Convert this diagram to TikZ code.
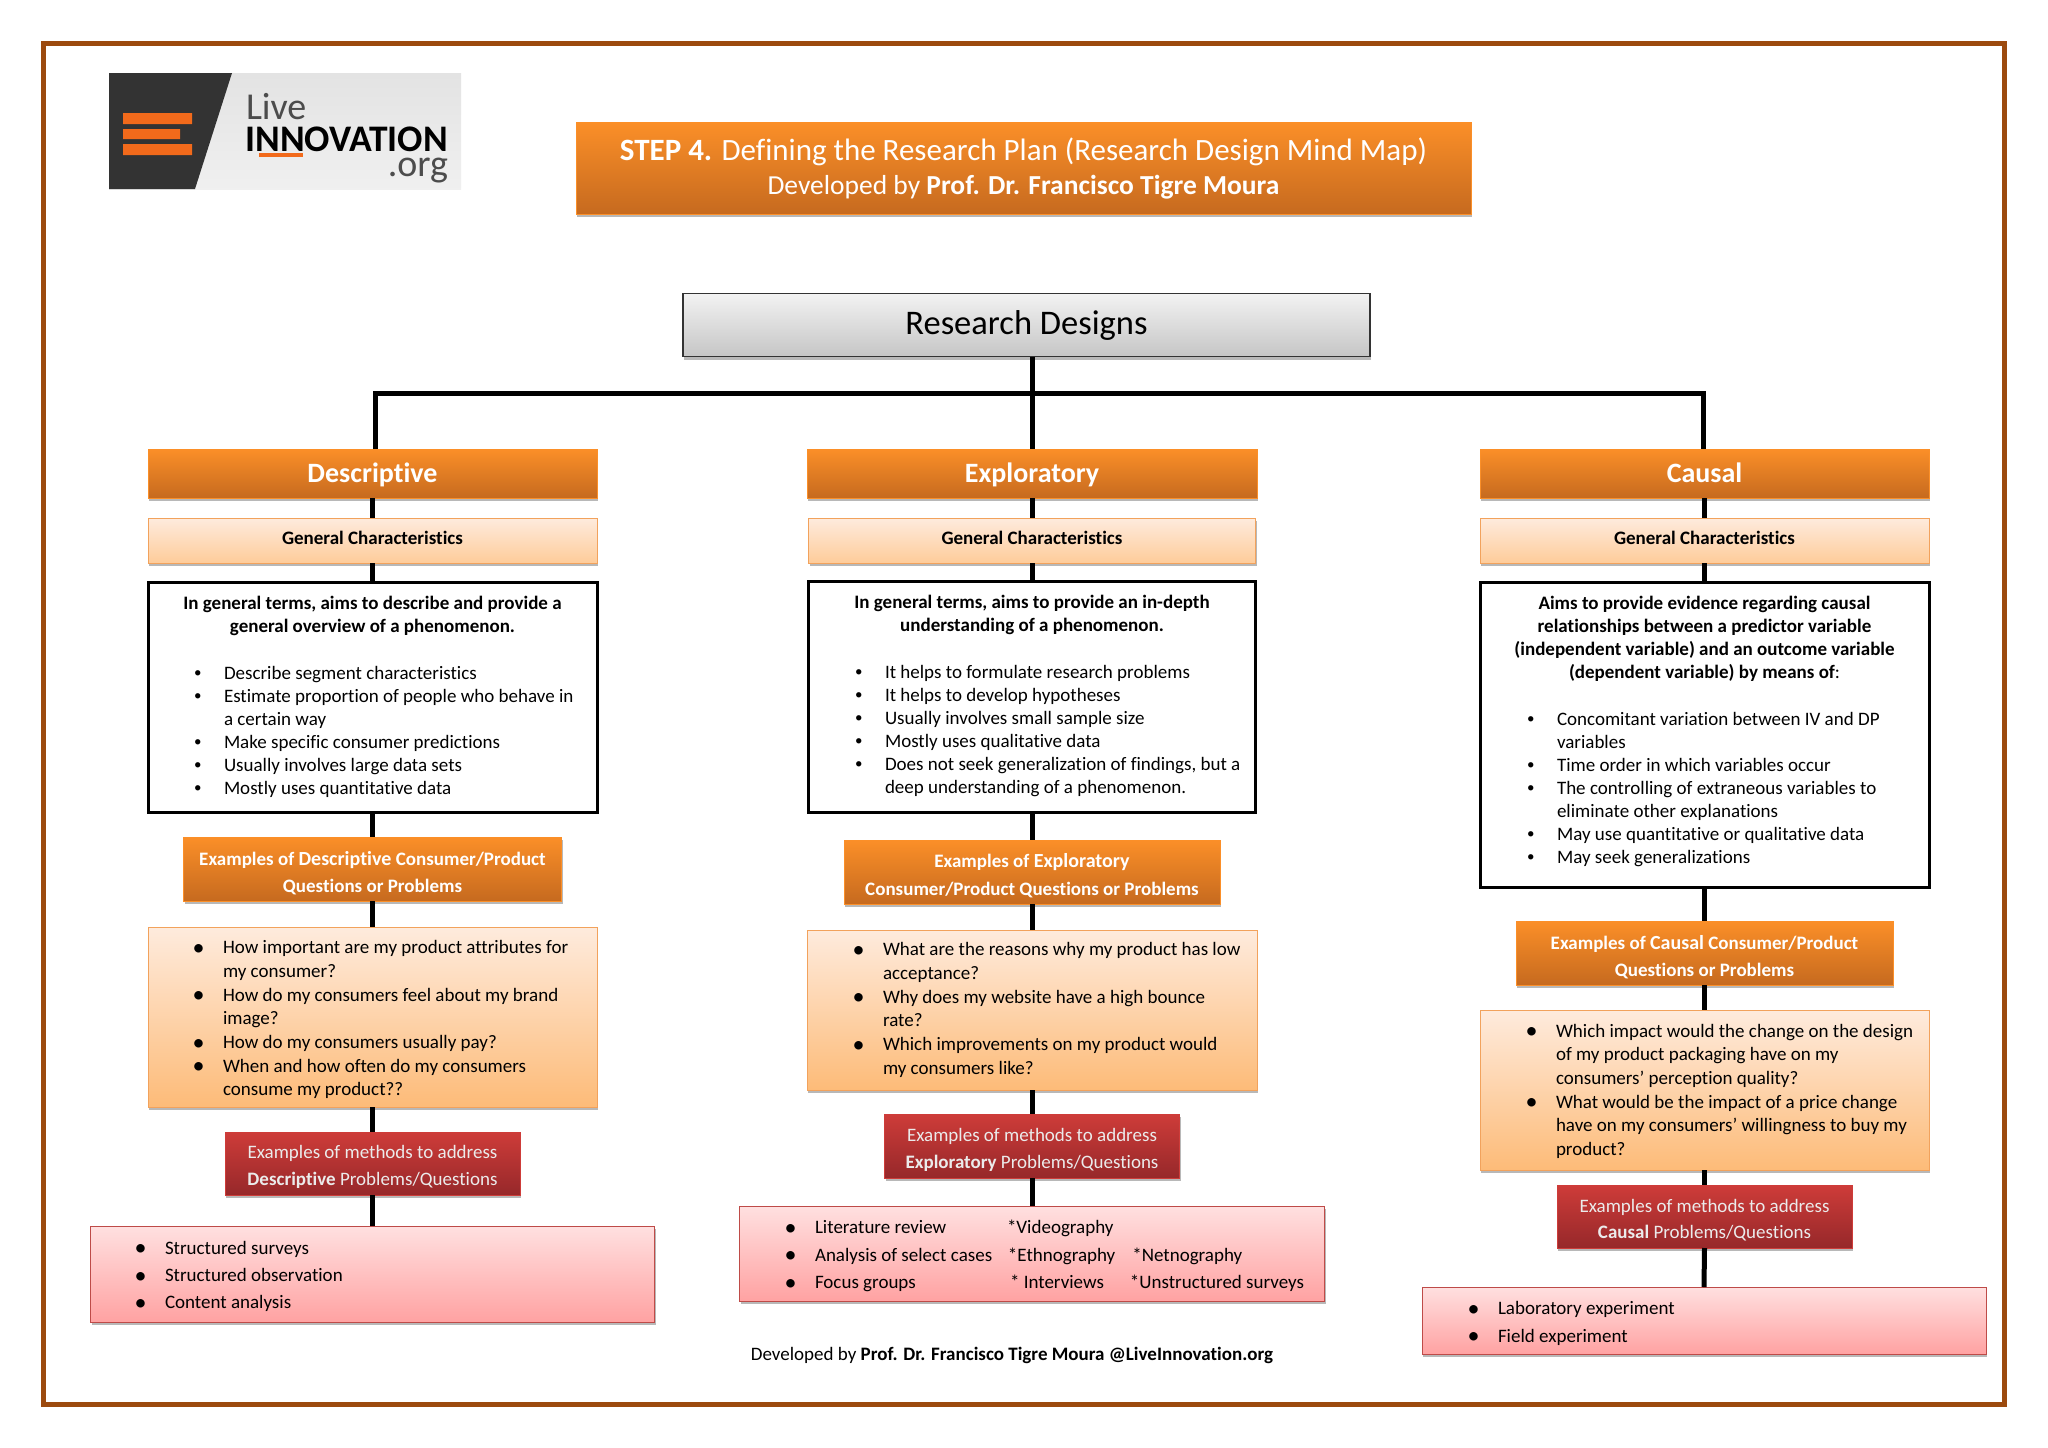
\documentclass[tikz,border=0pt]{standalone}
\usepackage{fontspec}
\setmainfont[Ligatures=NoCommon]{Carlito}
\usetikzlibrary{shadows}
\definecolor{cframe}{HTML}{9C4A0E}
\definecolor{corangetop}{HTML}{FB8F28}
\definecolor{corangelow}{HTML}{C66A1F}
\definecolor{cpeachtop}{HTML}{FEEBDD}
\definecolor{cpeachlow}{HTML}{FDBB78}
\definecolor{cpeachline}{HTML}{F2A25C}
\definecolor{credtop}{HTML}{CE3C39}
\definecolor{credlow}{HTML}{96282A}
\definecolor{cpinktop}{HTML}{FFE0E0}
\definecolor{cpinklow}{HTML}{FFA2A2}
\definecolor{cpinkline}{HTML}{BE4B48}
\definecolor{clogo}{HTML}{333333}
\definecolor{clogobar}{HTML}{F26A1B}
\newcommand{\bu}{\strut\makebox[27pt][l]{\hspace*{-3pt}\raisebox{1.2pt}{\fontsize{15}{15}\selectfont\textbullet}}}
\newcommand{\bq}{\strut\makebox[27pt][l]{\hspace*{-3.5pt}\raisebox{-1.7pt}{\fontsize{24}{24}\selectfont\textbullet}}}
\newcommand{\cont}{\strut\hspace*{27pt}}
\newcommand{\lowr}{\rule{0pt}{20pt}}
\tikzset{
  every picture/.style={x=1pt, y=-1pt},
  every node/.style={outer sep=0pt, inner sep=0pt, align=center},
  softshadow/.style={drop shadow={shadow xshift=1pt, shadow yshift=-3pt, fill=black, opacity=.28}},
  boxsize/.style 2 args={minimum width=#1, minimum height=#2},
  headbox/.style={draw=corangetop, top color=corangetop, bottom color=corangelow, text=white, softshadow},
  genbox/.style={draw=cpeachline, top color=cpeachtop, bottom color=cpeachlow!75!white, font=\fontsize{19}{23}\selectfont\bfseries, text height=13pt, text depth=5pt, softshadow},
  charbox/.style={draw=black, line width=3pt, fill=white},
  questbox/.style={draw=cpeachline, top color=cpeachtop, bottom color=cpeachlow, softshadow},
  methbox/.style={draw=credtop, top color=credtop, bottom color=credlow, text=white!92!black, softshadow, font=\fontsize{19}{26.5}\selectfont},
  listbox/.style={draw=cpinkline, top color=cpinktop, bottom color=cpinklow, softshadow},
  headtext/.style={font=\fontsize{28}{32}\selectfont\bfseries, text height=20pt, text depth=2pt},
  extext/.style={font=\fontsize{19}{27.4}\selectfont\bfseries},
  chartext/.style={font=\fontsize{19}{23}\selectfont, align=left, anchor=north west},
  leadtext/.style={font=\fontsize{19}{23}\selectfont\bfseries, anchor=north},
  questtext/.style={font=\fontsize{19}{23.7}\selectfont, align=left, anchor=north west},
  listtext/.style={font=\fontsize{19}{27.4}\selectfont, align=left, anchor=north west},
  link/.style={draw=black, line width=5pt},
}
\begin{document}
\begin{tikzpicture}
  \useasboundingbox (0,0) rectangle (2048,1448);
  \fill[white] (0,0) rectangle (2048,1448);
  \draw[cframe, line width=5.5pt] (43.5,43.5) rectangle (2004.5,1404.5);
  % logo
  \shade[top color=gray!22, bottom color=gray!12] (109,73) rectangle (461,189);
  \fill[clogo] (109,73) -- (232,73) -- (195,189) -- (109,189) -- cycle;
  \fill[clogobar] (123,113) rectangle (192,124) (123,129) rectangle (180,139) (123,144) rectangle (192,155);
  \node[anchor=west, font=\fontsize{38}{38}\selectfont, text=black!70] (logolive) at (246,107) {Live};
  \node[anchor=east, font=\fontsize{37.5}{37.5}\selectfont\bfseries] (logoname) at (448,139) {INNOVATION};
  \node[anchor=east, font=\fontsize{38}{38}\selectfont, text=black!70] (logoorg) at (448,171) {.org};
  \fill[clogobar] (259,153) rectangle (303,157);
  % title
  \node[headbox, boxsize={895}{92}, font=\fontsize{31}{35}\selectfont] (title) at (1023.5,168) {\textbf{STEP 4.} Defining the Research Plan (Research Design Mind Map)\\[-1pt]{\fontsize{27.5}{31}\selectfont Developed by \textbf{Prof. Dr. Francisco Tigre Moura}}};
  \node[draw=black!80, line width=1.5pt, top color=gray!10, bottom color=gray!45, boxsize={687}{63}, font=\fontsize{34.5}{38}\selectfont, softshadow] (root) at (1026.5,325) {Research Designs};
  % heads
  \node[headbox, boxsize={449}{49}, headtext] (descHead) at (372.5,473.5) {Descriptive};
  \node[headbox, boxsize={450}{49}, headtext] (explHead) at (1032,473.5) {Exploratory};
  \node[headbox, boxsize={449}{49}, headtext] (causHead) at (1704.5,473.5) {Causal};
  \node[genbox, boxsize={449}{45}] (descGen) at (372.5,540.5) {General Characteristics};
  \node[genbox, boxsize={447}{45}] (explGen) at (1032,540.5) {General Characteristics};
  \node[genbox, boxsize={449}{45}] (causGen) at (1704.5,540.5) {General Characteristics};
  \node[charbox, boxsize={449}{230}] (descChar) at (372.5,697) {};
  \node[charbox, boxsize={447}{231}] (explChar) at (1032,696.5) {};
  \node[charbox, boxsize={449}{305}] (causChar) at (1704.5,734.5) {};
  % descriptive column
  \node[leadtext] (descLead) at (372.5,593.5) {\strut In general terms, aims to describe and provide a\\\strut general overview of a phenomenon.};
  \node[chartext] (descTraits) at (197,663) {\bu Describe segment characteristics\\\bu Estimate proportion of people who behave in\\\cont a certain way\\\bu Make specific consumer predictions\\\bu Usually involves large data sets\\\bu Mostly uses quantitative data};
  \node[headbox, boxsize={378}{64}, extext] (descEx) at (372.5,869) {\rule{0pt}{22pt}Examples of {\fontsize{20}{27.4}\selectfont Descriptive} Consumer/Product\\Questions or Problems};
  \node[questbox, boxsize={449}{180}] (descQ) at (372.5,1017) {};
  \node[questtext] (descQtext) at (196,937) {\bq How important are my product attributes for\\\cont my consumer?\\\bq How do my consumers feel about my brand\\\cont image?\\\bq How do my consumers usually pay?\\\bq When and how often do my consumers\\\cont consume my product??};
  \node[methbox, boxsize={295}{63}] (descMeth) at (372.5,1163.5) {\lowr Examples of methods to address\\\textbf{Descriptive} Problems/Questions};
  \node[listbox, boxsize={564}{96}] (descList) at (372.5,1274) {};
  \node[listtext] (descLtext) at (138,1235) {\bq Structured surveys\\\bq Structured observation\\\bq Content analysis};
  % exploratory column
  \node[leadtext] (explLead) at (1032,592) {\strut In general terms, aims to provide an in-depth\\\strut understanding of a phenomenon.};
  \node[chartext] (explTraits) at (858,662) {\bu It helps to formulate research problems\\\bu It helps to develop hypotheses\\\bu Usually involves small sample size\\\bu Mostly uses qualitative data\\\bu Does not seek generalization of findings, but a\\\cont deep understanding of a phenomenon.};
  \node[headbox, boxsize={376}{64}, extext] (explEx) at (1032,872) {\rule{0pt}{21pt}Examples of {\fontsize{20}{27.4}\selectfont Exploratory}\\Consumer/Product Questions or Problems};
  \node[questbox, boxsize={450}{160}] (explQ) at (1032,1010) {};
  \node[questtext] (explQtext) at (856,939) {\bq What are the reasons why my product has low\\\cont acceptance?\\\bq Why does my website have a high bounce\\\cont rate?\\\bq Which improvements on my product would\\\cont my consumers like?};
  \node[methbox, boxsize={295}{64}] (explMeth) at (1032,1146) {\rule{0pt}{21pt}Examples of methods to address\\\textbf{Exploratory} Problems/Questions};
  \node[listbox, boxsize={585}{95}] (explList) at (1032,1253.5) {};
  \node[listtext] (explLtext) at (788,1214.5) {\bq \makebox[192pt][l]{Literature review}*Videography\\\bq \makebox[193pt][l]{Analysis of select cases}*Ethnography\hspace{17pt}*Netnography\\\bq \makebox[195pt][l]{Focus groups}* Interviews\hspace{26pt}*Unstructured surveys};
  % causal column
  \node[leadtext] (causLead) at (1704.5,593.5) {\strut Aims to provide evidence regarding causal\\\strut relationships between a predictor variable\\\strut (independent variable) and an outcome variable\\\strut (dependent variable) by means of\textmd{:}};
  \node[chartext] (causTraits) at (1530,709) {\bu Concomitant variation between IV and DP\\\cont variables\\\bu Time order in which variables occur\\\bu The controlling of extraneous variables to\\\cont eliminate other explanations\\\bu May use quantitative or qualitative data\\\bu May seek generalizations};
  \node[headbox, boxsize={377}{64}, extext] (causEx) at (1704.5,953) {\rule{0pt}{22pt}Examples of {\fontsize{20}{27.4}\selectfont Causal} Consumer/Product\\Questions or Problems};
  \node[questbox, boxsize={449}{160}] (causQ) at (1704.5,1090) {};
  \node[questtext] (causQtext) at (1529,1020.5) {\bq Which impact would the change on the design\\\cont of my product packaging have on my\\\cont consumers' perception quality?\\\bq What would be the impact of a price change\\\cont have on my consumers' willingness to buy my\\\cont product?};
  \node[methbox, boxsize={295}{63}] (causMeth) at (1704.5,1216.5) {\lowr Examples of methods to address\\\textbf{Causal} Problems/Questions};
  \node[listbox, boxsize={564}{67}] (causList) at (1704,1320.5) {};
  \node[listtext] (causLtext) at (1471,1295.5) {\bq Laboratory experiment\\\bq Field experiment};
  \node[font=\fontsize{19}{23}\selectfont] (footer) at (1012,1355.5) {Developed by \textbf{Prof. Dr. Francisco Tigre Moura @LiveInnovation.org}};
  % connectors
  \coordinate (hub) at (explHead.north |- 0,393);
  \draw[link] (root.south -| hub) -- (explHead.north);
  \draw[link, line join=miter] ([xshift=2.5pt]descHead.north) -- ([xshift=2.5pt]descHead.north |- hub) -- ([xshift=-1pt]causHead.north |- hub) -- ([xshift=-1pt]causHead.north);
  \foreach \c in {desc,expl,caus} {
    \foreach \a/\b in {Head/Gen, Gen/Char, Char/Ex, Ex/Q, Q/Meth, Meth/List}
      \draw[link] (\c\a.south) -- (\c\b.north);
  }
\end{tikzpicture}
\end{document}
